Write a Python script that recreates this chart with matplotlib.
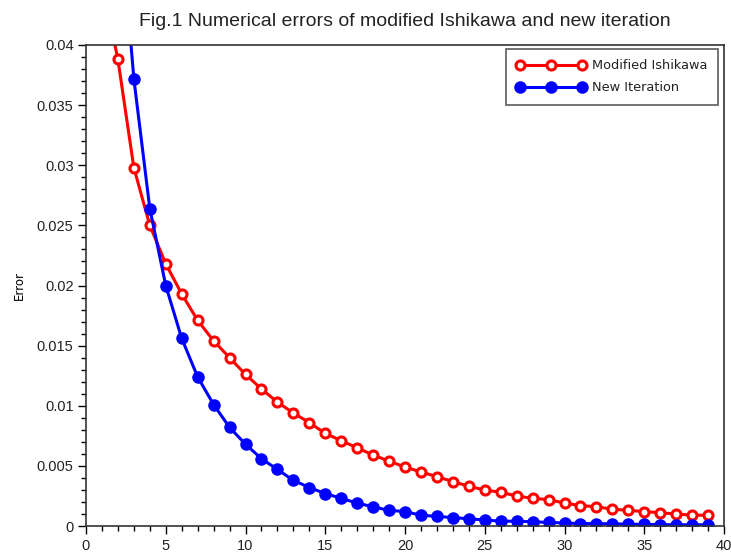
import matplotlib
matplotlib.use('Agg')
import matplotlib.pyplot as plt
import matplotlib.ticker

# iteration index
x_mod = list(range(1, 40))
x_new = list(range(1, 40))

# Modified Ishikawa errors (x = 1 .. 39)
err_mod = [0.0452, 0.0388, 0.0298, 0.0250, 0.0218, 0.0193, 0.0171, 0.0154, 0.0140, 0.0126,
           0.0114, 0.0103, 0.0094, 0.0086, 0.0077, 0.0071, 0.0065, 0.0059, 0.0054, 0.0049,
           0.0045, 0.0041, 0.0037, 0.0033, 0.0030, 0.0028, 0.0025, 0.0023, 0.0022, 0.0019,
           0.0017, 0.0016, 0.0014, 0.0013, 0.0012, 0.0011, 0.0010, 0.0009, 0.0009]

# New Iteration errors (x = 1 .. 39)
err_new = [0.0800, 0.0530, 0.0372, 0.0264, 0.0200, 0.0156, 0.0124, 0.0101, 0.0082, 0.0068,
           0.0056, 0.0047, 0.0038, 0.0032, 0.0027, 0.0023, 0.0019, 0.0016, 0.0013, 0.0012,
           0.0009, 0.0008, 0.0007, 0.0006, 0.0005, 0.0004, 0.0004, 0.00035, 0.0003, 0.00025,
           0.0002, 0.0002, 0.00018, 0.00015, 0.00013, 0.00012, 0.0001, 0.0001, 0.0001]

title = 'Fig.1 Numerical errors of modified Ishikawa and new iteration'

fig = plt.figure(figsize=(7.31, 5.55), dpi=100)
ax = fig.add_axes([86 / 731, 1 - 526 / 555, 638 / 731, 481 / 555])

ax.plot(x_mod, err_mod, '-o', color='#ff0000', lw=2.2, ms=6.5, mfc='white', mec='#ff0000',
        mew=2.2, label='Modified Ishikawa')
ax.plot(x_new, err_new, '-o', color='#0000ff', lw=2.2, ms=8, mfc='#0000ff', mec='#0000ff',
        label='New Iteration')

ax.set_xlim(0, 40)
ax.set_ylim(0, 0.04)
ax.xaxis.set_major_locator(matplotlib.ticker.MultipleLocator(5))
ax.xaxis.set_minor_locator(matplotlib.ticker.MultipleLocator(1))
ax.yaxis.set_major_locator(matplotlib.ticker.MultipleLocator(0.005))
ax.yaxis.set_minor_locator(matplotlib.ticker.MultipleLocator(0.001))
ax.yaxis.set_major_formatter(matplotlib.ticker.FuncFormatter(lambda v, p: ('%g' % round(v, 4))))

ax.tick_params(which='major', direction='out', length=6, width=1, labelsize=10.5, pad=3,
               labelcolor='#222222')
ax.tick_params(which='minor', direction='out', length=3.5, width=1)
for lab in ax.get_xticklabels() + ax.get_yticklabels():
    lab.set_family('Liberation Sans')
for s in ax.spines.values():
    s.set_linewidth(1.2)
    s.set_color('#333333')

ax.set_ylabel('Error', fontsize=8.5, family='DejaVu Sans', labelpad=8)
ax.set_title(title, fontsize=14, family='Liberation Sans', pad=14, color='#222222')

leg = ax.legend(loc='upper right', bbox_to_anchor=(632 / 638, 477 / 481), borderaxespad=0,
                frameon=True, fancybox=False, edgecolor='#333333', handlelength=5.4,
                handletextpad=0.5, borderpad=0.8, labelspacing=0.7, numpoints=3,
                prop={'family': 'DejaVu Sans', 'size': 9.3})
leg.get_frame().set_linewidth(1.2)
for t in leg.get_texts():
    t.set_color('#222222')

fig.savefig('out.png', dpi=100)
